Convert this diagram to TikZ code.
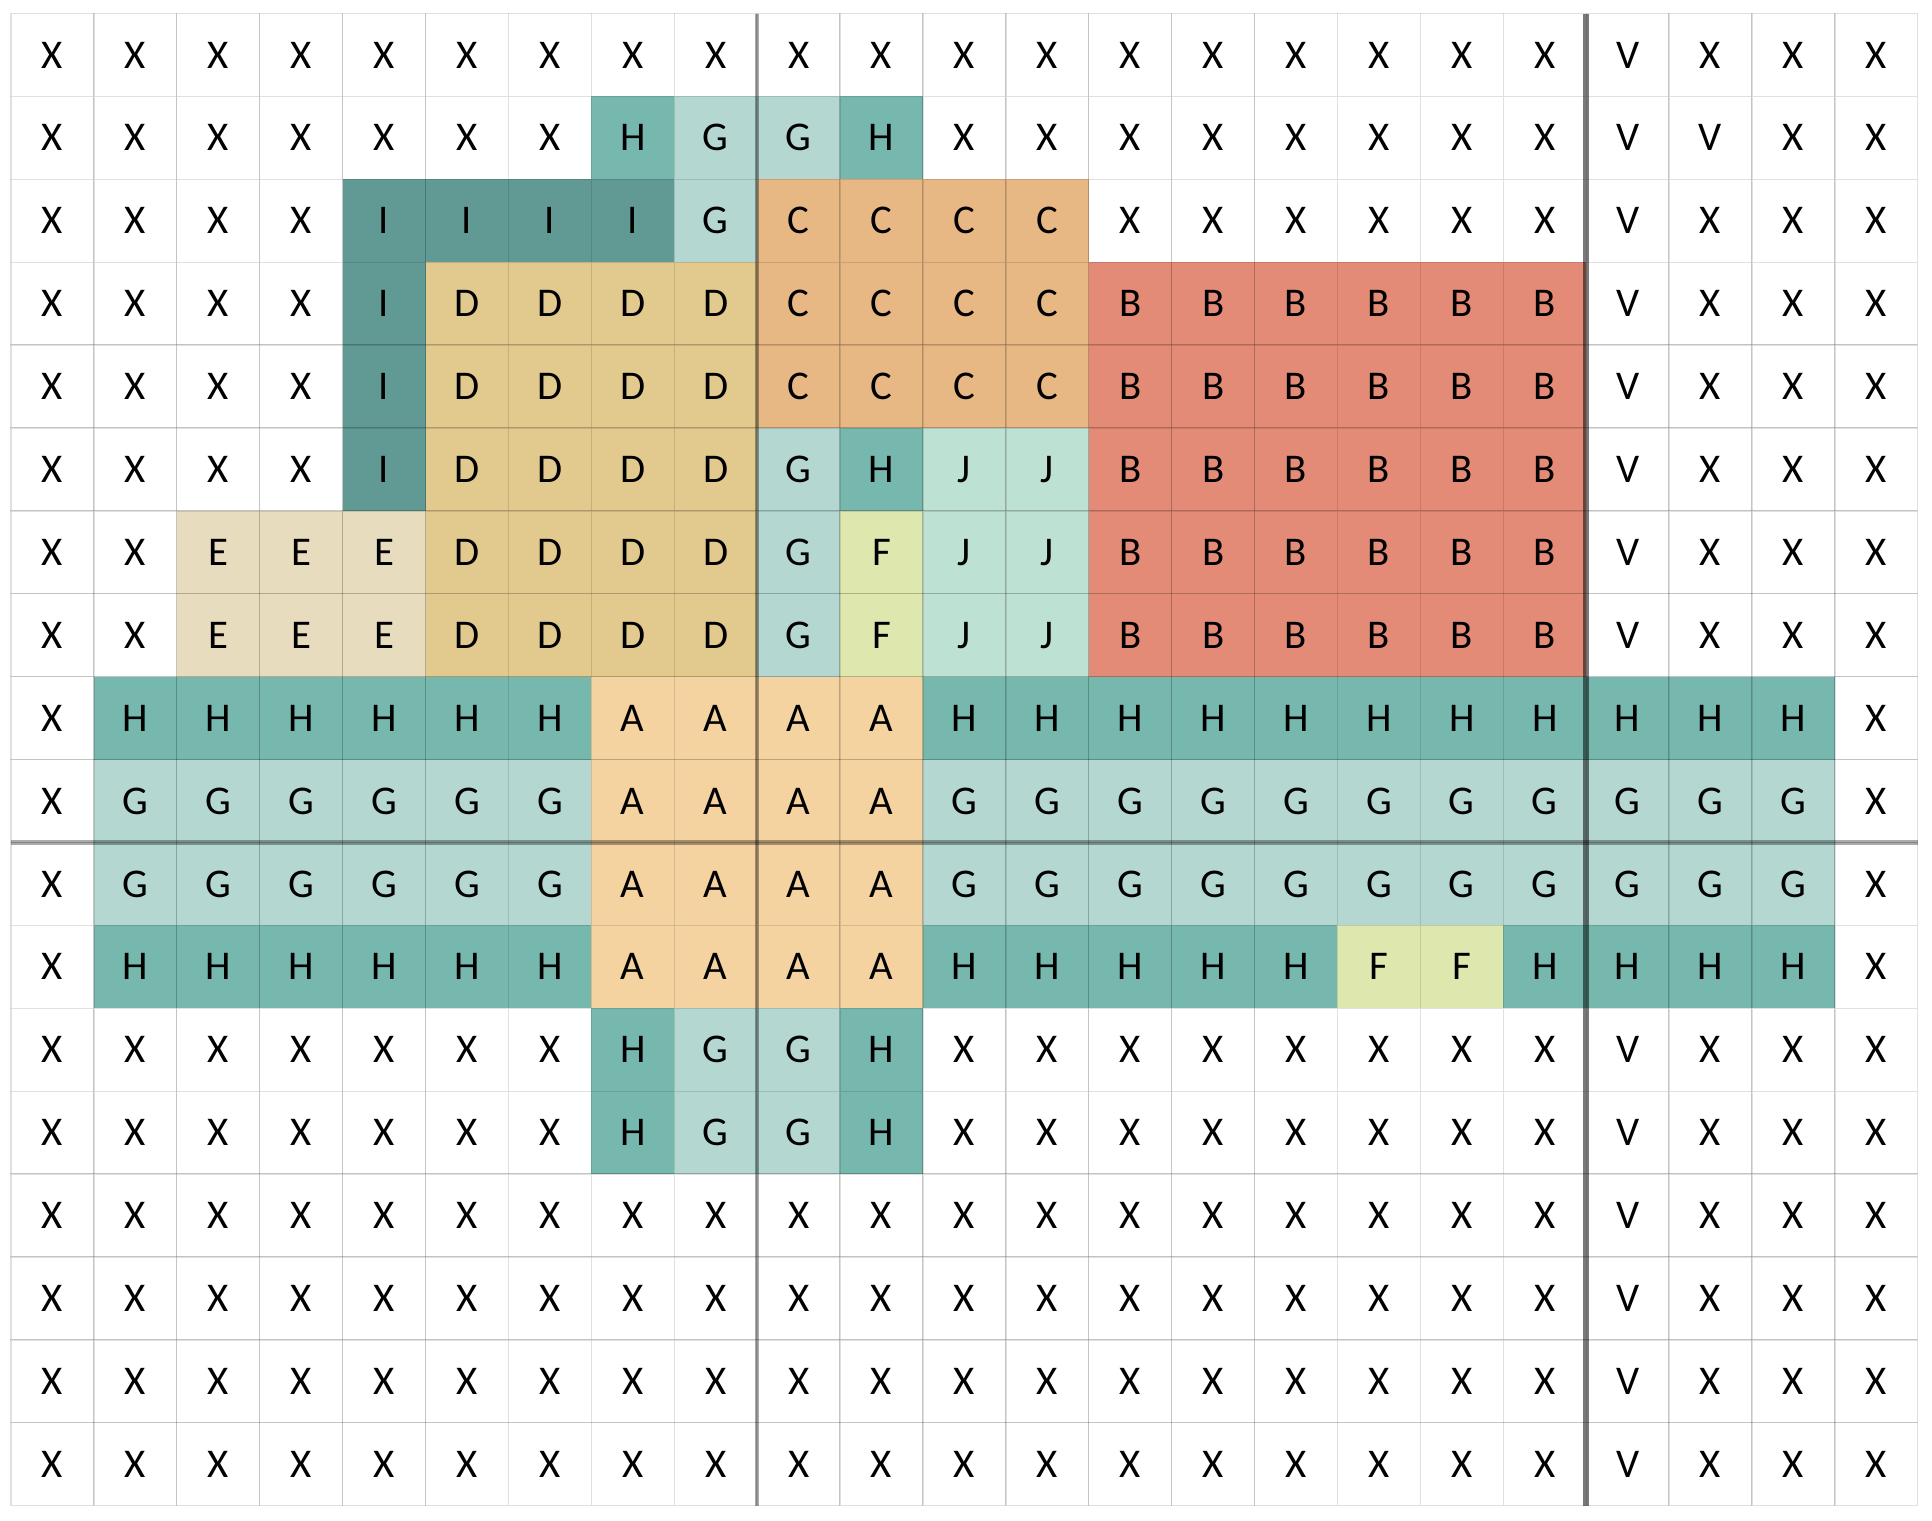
\documentclass[tikz,border=0pt]{standalone}
\usepackage{fontspec}
\setmainfont{Carlito}
\usepackage{tikz}
\usetikzlibrary{calc}

\definecolor{cellA}{HTML}{F5D3A0}
\definecolor{cellB}{HTML}{E38B76}
\definecolor{cellC}{HTML}{E8B884}
\definecolor{cellD}{HTML}{E2C98E}
\definecolor{cellE}{HTML}{E7DCBD}
\definecolor{cellF}{HTML}{DDE7AE}
\definecolor{cellG}{HTML}{B4D7D2}
\definecolor{cellH}{HTML}{76B8AE}
\definecolor{cellI}{HTML}{619A94}
\definecolor{cellJ}{HTML}{BDE1D2}
\definecolor{cellV}{HTML}{FFFFFF}
\definecolor{cellX}{HTML}{FFFFFF}

\begin{document}
\begin{tikzpicture}[scale=1,
  cellbox/.style={draw=black, draw opacity=0.12, line width=0.45pt, minimum size=1cm, inner sep=0pt, outer sep=0pt, font=\fontsize{14}{16}\selectfont},
  midline/.style={draw=black, draw opacity=0.33, line width=1.4pt},
  sepline/.style={draw=black, draw opacity=0.52, line width=2.2pt}]
\useasboundingbox (-0.133,-18.184) rectangle (23.172,0.163);
% cells, one row per line
\foreach \row [count=\r from 0] in {
  {X,X,X,X,X,X,X,X,X,X,X,X,X,X,X,X,X,X,X,V,X,X,X},
  {X,X,X,X,X,X,X,H,G,G,H,X,X,X,X,X,X,X,X,V,V,X,X},
  {X,X,X,X,I,I,I,I,G,C,C,C,C,X,X,X,X,X,X,V,X,X,X},
  {X,X,X,X,I,D,D,D,D,C,C,C,C,B,B,B,B,B,B,V,X,X,X},
  {X,X,X,X,I,D,D,D,D,C,C,C,C,B,B,B,B,B,B,V,X,X,X},
  {X,X,X,X,I,D,D,D,D,G,H,J,J,B,B,B,B,B,B,V,X,X,X},
  {X,X,E,E,E,D,D,D,D,G,F,J,J,B,B,B,B,B,B,V,X,X,X},
  {X,X,E,E,E,D,D,D,D,G,F,J,J,B,B,B,B,B,B,V,X,X,X},
  {X,H,H,H,H,H,H,A,A,A,A,H,H,H,H,H,H,H,H,H,H,H,X},
  {X,G,G,G,G,G,G,A,A,A,A,G,G,G,G,G,G,G,G,G,G,G,X},
  {X,G,G,G,G,G,G,A,A,A,A,G,G,G,G,G,G,G,G,G,G,G,X},
  {X,H,H,H,H,H,H,A,A,A,A,H,H,H,H,H,F,F,H,H,H,H,X},
  {X,X,X,X,X,X,X,H,G,G,H,X,X,X,X,X,X,X,X,V,X,X,X},
  {X,X,X,X,X,X,X,H,G,G,H,X,X,X,X,X,X,X,X,V,X,X,X},
  {X,X,X,X,X,X,X,X,X,X,X,X,X,X,X,X,X,X,X,V,X,X,X},
  {X,X,X,X,X,X,X,X,X,X,X,X,X,X,X,X,X,X,X,V,X,X,X},
  {X,X,X,X,X,X,X,X,X,X,X,X,X,X,X,X,X,X,X,V,X,X,X},
  {X,X,X,X,X,X,X,X,X,X,X,X,X,X,X,X,X,X,X,V,X,X,X}}
  \foreach \l [count=\c from 0] in \row
    \node[cellbox, fill=cell\l] (c-\r-\c) at (\c+0.5,-\r-0.5) {\l};
% dividers
\draw[midline] (c-0-9.north west) -- (c-17-9.south west);
\draw[midline] (c-10-0.north west) -- (c-10-22.north east);
\draw[sepline] (c-0-19.north west) -- (c-17-19.south west);
\end{tikzpicture}
\end{document}
